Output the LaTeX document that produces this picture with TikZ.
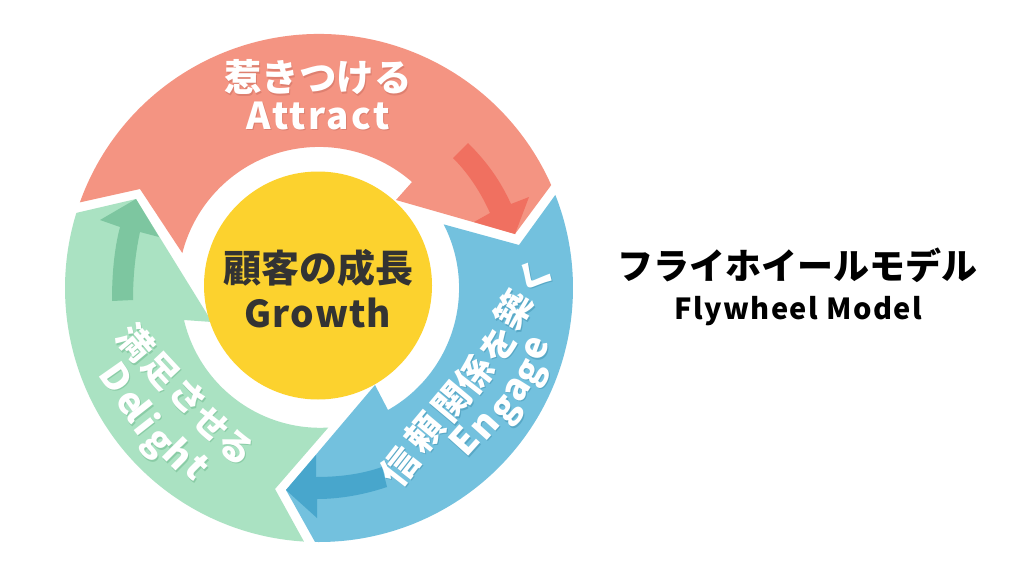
\documentclass[tikz,border=0pt]{standalone}
\usepackage{fontspec}
\newfontfamily\jp{Noto Sans CJK JP}
\definecolor{ringred}{RGB}{244,148,130}
\definecolor{ringblue}{RGB}{115,193,222}
\definecolor{ringgreen}{RGB}{170,226,194}
\definecolor{arrowred}{RGB}{240,112,96}
\definecolor{arrowblue}{RGB}{72,166,204}
\definecolor{arrowgreen}{RGB}{125,198,160}
\definecolor{hubyellow}{RGB}{252,210,46}
\definecolor{darktext}{RGB}{51,51,51}
\definecolor{shadered}{RGB}{222,128,112}
\definecolor{shadeblue}{RGB}{88,168,198}
\definecolor{shadegreen}{RGB}{138,204,166}
\tikzset{
  lbl/.style={inner sep=0pt,align=center,text=white},
}
\newcommand\fsz[1]{\jp\bfseries\fontsize{#1}{#1}\selectfont}
% #1 name, #2 size, #3 shadow colour, #4 list x/y/rot/char
\newcommand\charrun[4]{%
  \foreach \px/\py/\rr/\ch [count=\i] in {#4} {
    \node[lbl,text=#3,rotate=\rr] (#1s\i) at (\px+1,\py+1.5) {\fsz{#2}\vphantom{Ag}\ch};
    \node[lbl,rotate=\rr] (#1\i) at (\px,\py) {\fsz{#2}\vphantom{Ag}\ch};
  }}
\begin{document}
\begin{tikzpicture}[x=1pt,y=-1pt]
\useasboundingbox[fill=white] (0,0) rectangle (1024,578);
\coordinate (c) at (319,288);
% red segment
\fill[ringred] (c) ++(160.3:254pt) arc[start angle=160.3,end angle=23.9,radius=254pt]
  -- (515,234) -- (396,200) -- (412,182)
  arc[start angle=48.7,end angle=165.7,radius=141pt] -- (140,189) -- cycle;
% blue segment
\fill[ringblue] (c) ++(21.5:254pt) arc[start angle=21.5,end angle=-90.9,radius=254pt]
  -- (286,490) -- (375,385) -- (388,410)
  arc[start angle=-60.5,end angle=27.1,radius=140pt] -- (519,245) -- cycle;
% green segment
\fill[ringgreen] (c) ++(266.6:254pt) arc[start angle=266.6,end angle=162.8,radius=254pt]
  -- (136,199) -- (212,322) -- (184,320)
  arc[start angle=193.3,end angle=273.3,radius=140pt] -- (275,489) -- cycle;
% inner arrows
\fill[arrowred] (453,158) -- (468,143) .. controls (487,162) and (500,180) .. (511,204)
  -- (529,197) -- (515,234) -- (474,222) -- (490,213)
  .. controls (482,195) and (470,175) .. cycle;
\fill[arrowgreen] (112,301) .. controls (112,275) and (114,250) .. (120,227) -- (100,220)
  -- (136,199) -- (159,237) -- (140,232) .. controls (135,255) and (133,278) .. (133,300) -- cycle;
\fill[arrowblue] (382,467) .. controls (362,474) and (340,477) .. (316,477) -- (316,455)
  -- (286,490) -- (317,518) -- (317,499) .. controls (342,499) and (366,494) .. (387,487) -- cycle;
% hub
\node[lbl,circle,fill=hubyellow,minimum size=228pt] (hub) at (318,285.5) {};
\node[lbl,text=darktext] (hubjp) at (318,268) {\fsz{38}顧客の成長};
\node[lbl,text=darktext] (huben) at (318,313) {\fsz{37}\addfontfeatures{LetterSpace=3}Growth};
% attract
\node[lbl,text=shadered] (attjps) at (319,79) {\fsz{37.5}惹きつける};
\node[lbl] (attjp) at (318,77.5) {\fsz{37.5}惹きつける};
\node[lbl,text=shadered] (attens) at (319,117) {\fsz{37}\addfontfeatures{LetterSpace=6}Attract};
\node[lbl] (atten) at (318,115.5) {\fsz{37}\addfontfeatures{LetterSpace=6}Attract};
% engage
\charrun{eng}{36.5}{shadeblue}{402/468/52/信,427/434/50/頼,454/404/50/関,477/376/52/係,501/346/55/を,516/311/60/築,537/278/62/く}
\charrun{enga}{37}{shadeblue}{467/444/48/E,487/427/48/n,507/410/50/g,518/390/58/a,532/373/62/g,537/349/70/e}
% delight
\charrun{del}{35}{shadegreen}{134/344/-50/満,159/372/-47/足,186/399/-45/さ,209/426/-43/せ,234/449/-40/る}
\charrun{dela}{37}{shadegreen}{113/380/-55/D,128/404/-55/e,136/414/-52/l,145/426/-52/i,157/444/-48/g,176/457/-45/h,195/470/-45/t}
% title
\node[lbl,text=black] (titlejp) at (797.5,265) {{\jp\bfseries\fontsize{36}{36}\selectfont フライホイールモデル}};
\node[lbl,text=black] (titleen) at (798,311) {{\jp\bfseries\fontsize{29}{29}\selectfont\addfontfeatures{LetterSpace=5}Flywheel Model}};
\end{tikzpicture}
\end{document}
